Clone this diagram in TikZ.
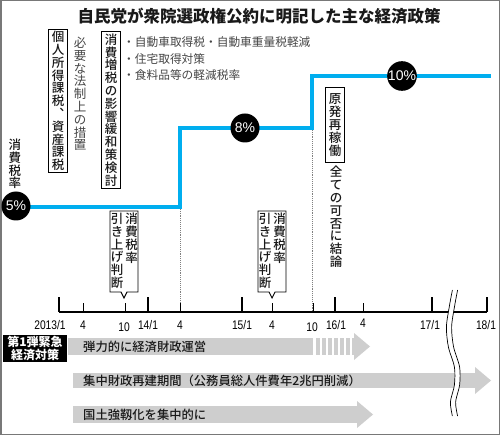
\documentclass[tikz,border=0pt]{standalone}
\usepackage{fontspec}
\setmainfont{Noto Sans CJK JP}
\newfontfamily\jpm{Noto Sans CJK JP Medium}
\newfontfamily\numf[FakeStretch=0.82]{Liberation Sans}
\newfontfamily\ratef{Liberation Sans}
\definecolor{sky}{RGB}{0,174,239}
\definecolor{bandgray}{RGB}{206,206,206}
\definecolor{framegray}{RGB}{120,120,120}
\definecolor{txt}{RGB}{25,25,25}
\definecolor{softtxt}{RGB}{70,70,70}
\begin{document}
\begin{tikzpicture}[x=1pt,y=-1pt,
  vt/.style={align=center, inner sep=0pt, text=txt, font=\jpm\fontsize{12.5}{12.8}\selectfont},
  vbox/.style={draw, line width=0.9pt, fill=white, align=center, inner xsep=3pt, inner ysep=3pt, text=txt, font=\jpm\fontsize{12.5}{12.8}\selectfont},
  ratec/.style={circle, fill=black, text=white, minimum size=29pt, inner sep=0pt, font=\ratef\fontsize{14}{14}\selectfont},
  axlbl/.style={font=\numf\fontsize{12.5}{12.5}\selectfont, anchor=base, inner sep=0pt},
  majtk/.style={line width=1.2pt},
  mintk/.style={line width=0.8pt},
  bartxt/.style={anchor=west, inner sep=0pt, text=txt, font=\jpm\fontsize{12.3}{12.3}\selectfont},
  bullet/.style={anchor=west, inner sep=0pt, text=softtxt, font=\fontsize{11.7}{11.7}\selectfont},
  callout/.style={draw, line width=0.9pt, fill=white},
  dotline/.style={gray, densely dotted, line width=0.9pt}
]
\useasboundingbox (0,0) rectangle (500,435);
\fill[white] (0,0) rectangle (500,435);
\draw[framegray, line width=1.5pt] (0.75,0.75) rectangle (499.25,434.25);

% title
\node[font=\bfseries\fontsize{16.5}{16.5}\selectfont, text=txt] (title) at (259,16) {自民党が衆院選政権公約に明記した主な経済政策};

% dotted guides
\coordinate (d1top) at (180,207);
\coordinate (d1bot) at (180,312);
\coordinate (d2top) at (312,128);
\coordinate (d2bot) at (312,312);
\draw[dotline] (d1top) -- (d1bot);
\draw[dotline] (d2top) -- (d2bot);

% rate line
\coordinate (c5p) at (16,207);
\coordinate (s1a) at (180,207);
\coordinate (s1b) at (180,128);
\coordinate (s2a) at (312,128);
\coordinate (s2b) at (312,76);
\coordinate (lend) at (491,76);
\draw[sky, line width=3.8pt] (c5p) -- (s1a) -- (s1b) -- (s2a) -- (s2b) -- (lend);
\node[ratec] (c5) at (16,206) {5\%};
\node[ratec] (c8) at (245,128) {8\%};
\node[ratec] (c10) at (402,76) {10\%};

% vertical labels
\node[vt] (shz) at (15,164) {消\\費\\税\\率};
\node[vbox, inner ysep=2pt] (kojin) at (58,101) {個\\人\\所\\得\\課\\税\\︑\\資\\産\\課\\税};
\node[vt, text=softtxt, font=\fontsize{12.5}{12.8}\selectfont] (hitsuyo) at (80,94) {必\\要\\な\\法\\制\\上\\の\\措\\置};
\node[vbox, inner ysep=2pt] (eikyo) at (111,110) {消\\費\\増\\税\\の\\影\\響\\緩\\和\\策\\検\\討};
\node[bullet] (b1) at (123,42) {・自動車取得税・自動車重量税軽減};
\node[bullet] (b2) at (123,59) {・住宅取得対策};
\node[bullet] (b3) at (123,75) {・食料品等の軽減税率};
\node[vbox, inner ysep=6pt] (genpatsu) at (335,125) {原\\発\\再\\稼\\働};
\node[vt] (subete) at (336,217) {全\\て\\の\\可\\否\\に\\結\\論};

% callouts
\draw[callout] (110,211) -- (138,211) -- (138,292) -- (127,292) -- (124,298) -- (121,292) -- (110,292) -- cycle;
\node[vt, anchor=north] (co1r) at (131.5,213) {消\\費\\税\\率};
\node[vt, anchor=north] (co1l) at (117,213) {引\\き\\上\\げ\\判\\断};
\draw[callout] (258,211) -- (286,211) -- (286,292) -- (275,292) -- (272,298) -- (269,292) -- (258,292) -- cycle;
\node[vt, anchor=north] (co2r) at (279.5,213) {消\\費\\税\\率};
\node[vt, anchor=north] (co2l) at (265,213) {引\\き\\上\\げ\\判\\断};

% axis
\coordinate (ax0) at (59,312);
\coordinate (ax1) at (487,312);
\draw[line width=1.3pt] (ax0) -- (ax1);
\foreach \x in {59,148,242,335,432,487} \draw[majtk] (\x,297) -- (\x,312);
\foreach \x in {83,125,180,272,313,363} \draw[mintk] (\x,303) -- (\x,312);
\node[axlbl] (l0) at (50,329) {2013/1};
\node[axlbl] (l1) at (83,329) {4};
\node[axlbl] (l2) at (124,331) {10};
\node[axlbl] (l3) at (148,329) {14/1};
\node[axlbl] (l4) at (180,329) {4};
\node[axlbl] (l5) at (242,329) {15/1};
\node[axlbl] (l6) at (272,329) {4};
\node[axlbl] (l7) at (312,331) {10};
\node[axlbl] (l8) at (336,329) {16/1};
\node[axlbl] (l9) at (363,327) {4};
\node[axlbl] (l10) at (430,329) {17/1};
\node[axlbl] (l11) at (486,329) {18/1};

% policy arrows
\fill[bandgray] (68,338) rectangle (313,355);
\foreach \i in {0,...,5} \fill[bandgray] (316+6*\i,338) rectangle (319.5+6*\i,355);
\fill[bandgray] (352,338) rectangle (355,355);
\fill[bandgray] (354,333) -- (370,346.5) -- (354,360) -- cycle;
\fill[bandgray] (73,373) rectangle (476,388);
\fill[bandgray] (475,367) -- (491,380.5) -- (475,394) -- cycle;
\fill[bandgray] (73,406) rectangle (358,423);
\fill[bandgray] (357,401) -- (373,414.5) -- (357,428) -- cycle;

\node[fill=black, text=white, font=\bfseries\fontsize{12}{13}\selectfont, align=center, minimum width=64pt, minimum height=27pt, inner sep=1pt] (kinkyu) at (35,348.5) {第1弾緊急\\経済対策};
\node[bartxt] (p1) at (83,346.5) {弾力的に経済財政運営};
\node[bartxt] (p2) at (83,380.5) {集中財政再建期間（公務員総人件費年2兆円削減）};
\node[bartxt] (p3) at (83,414.5) {国土強靱化を集中的に};

% break mark
\def\wavepts{(455,290) (452,306) (449,327) (451,347) (457,367) (457,385) (453,402) (455,416)}
\draw[white, line width=5pt] plot[smooth] coordinates \wavepts;
\draw[line width=0.7pt, xshift=-2.6pt] plot[smooth] coordinates \wavepts;
\draw[line width=0.7pt, xshift=2.6pt] plot[smooth] coordinates \wavepts;
\end{tikzpicture}
\end{document}
